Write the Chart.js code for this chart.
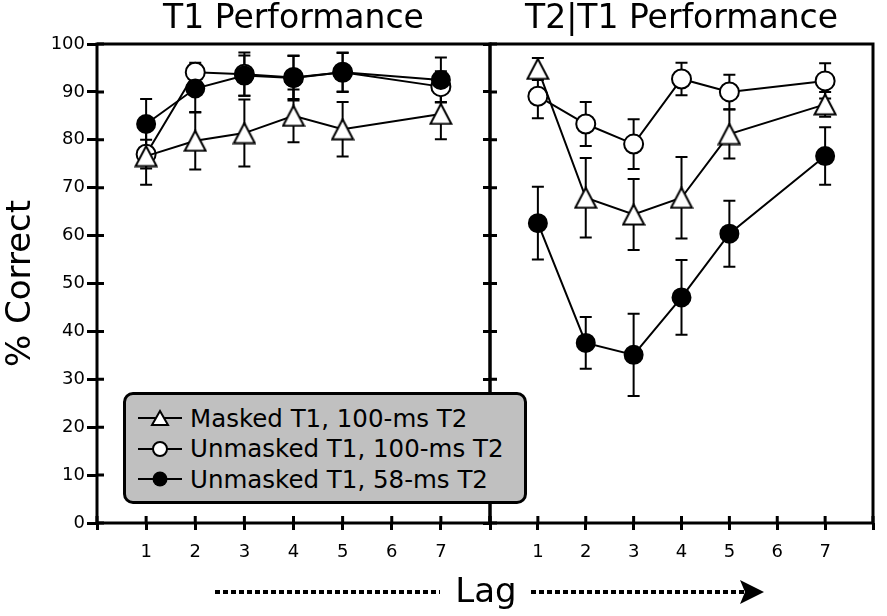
<!DOCTYPE html>
<html>
<head>
<meta charset="utf-8">
<script src="https://cdn.jsdelivr.net/npm/chart.js@4.4.1/dist/chart.umd.min.js"></script>
<style>
  body { margin: 0; background: #fff; }
  #wrap { position: relative; width: 887px; height: 616px; overflow: hidden; font-family: "DejaVu Sans", sans-serif; }
  .panel { position: absolute; top: 0; height: 616px; }
  #leftPanel { left: 0; width: 530px; }
  #rightPanel { left: 440px; width: 447px; }
  #legend {
    position: absolute; left: 123px; top: 392px; width: 404px; height: 112px;
    box-sizing: border-box; border: 3px solid #000; border-radius: 10px;
    background: #c0c0c0; padding: 8px 0 0 11px;
  }
  .row { height: 30.5px; display: flex; align-items: center; font-size: 24.5px; color: #000; white-space: nowrap; }
  .row svg { flex: none; margin-right: 7px; }
  #lagRow { position: absolute; left: 0; top: 0; pointer-events: none; }
</style>
</head>
<body>
<div id="wrap">
  <div class="panel" id="leftPanel"><canvas id="t1" width="530" height="616"></canvas></div>
  <div class="panel" id="rightPanel"><canvas id="t2" width="447" height="616"></canvas></div>
  <div id="legend"></div>
  <svg id="lagRow" width="887" height="616">
    <line x1="215" y1="592" x2="440" y2="592" stroke="#000" stroke-width="4" stroke-dasharray="5 3"></line>
    <line x1="531" y1="592" x2="745" y2="592" stroke="#000" stroke-width="4" stroke-dasharray="5 3"></line>
    <polygon points="740,580 764,592 740,604 745,592" fill="#000"></polygon>
    <text x="486" y="602" text-anchor="middle" font-family="DejaVu Sans" font-size="34" fill="#000">Lag</text>
  </svg>
</div>
<script>
const lags = [1, 2, 3, 4, 5, 7];
const seriesNames = ['Masked T1, 100-ms T2', 'Unmasked T1, 100-ms T2', 'Unmasked T1, 58-ms T2'];

// T1 Performance
const t1Masked = [76.6, 79.8, 81.4, 85.0, 82.2, 85.4];
const t1Unmasked100 = [77.0, 94.1, 93.7, 93.0, 94.1, 91.1];
const t1Unmasked58 = [83.3, 90.7, 93.4, 92.9, 94.1, 92.5];
const t1MaskedErr = [6.0, 6.0, 7.0, 5.5, 5.7, 5.3];
const t1Unmasked100Err = [3.0, 2.0, 4.5, 4.5, 4.0, 3.2];
const t1Unmasked58Err = [5.2, 5.0, 4.2, 4.7, 4.1, 4.7];

// T2|T1 Performance
const t2Masked = [94.8, 67.9, 64.4, 67.9, 81.2, 87.4];
const t2Unmasked100 = [89.1, 83.3, 79.1, 92.7, 90.0, 92.3];
const t2Unmasked58 = [62.6, 37.6, 35.1, 47.1, 60.4, 76.6];
const t2MaskedErr = [2.3, 8.3, 7.4, 8.5, 5.1, 2.6];
const t2Unmasked100Err = [4.6, 4.6, 5.2, 3.4, 3.6, 3.7];
const t2Unmasked58Err = [7.6, 5.4, 8.6, 7.8, 6.9, 6.0];

const FONT = 'DejaVu Sans';

// triangle marker centred on its bounding box, like the original figure
function triangleMarker() {
    const c = document.createElement('canvas');
    c.width = 24; c.height = 23;
    const g = c.getContext('2d');
    g.beginPath();
    g.moveTo(12, 1.5); g.lineTo(22.5, 21.5); g.lineTo(1.5, 21.5); g.closePath();
    g.fillStyle = '#fff'; g.fill();
    g.lineWidth = 2; g.strokeStyle = '#000'; g.stroke();
    return c;
}
const tri = triangleMarker();

function makeSets(values, errs) {
    const looks = [
        {pointStyle: tri, pointRadius: 12, bg: '#fff', order: 1},
        {pointStyle: 'circle', pointRadius: 9.5, bg: '#fff', order: 2},
        {pointStyle: 'circle', pointRadius: 9, bg: '#000', order: 0}
    ];
    return seriesNames.map((name, k) => ({
        label: name,
        data: lags.map((lag, i) => ({x: lag, y: values[k][i]})),
        errors: errs[k],
        showLine: true,
        borderColor: '#000',
        borderWidth: 2,
        pointStyle: looks[k].pointStyle,
        pointRadius: looks[k].pointRadius,
        pointBackgroundColor: looks[k].bg,
        pointBorderColor: '#000',
        pointBorderWidth: 2,
        order: looks[k].order
    }));
}

const errorBars = {
    id: 'errorBars',
    beforeDatasetsDraw(chart) {
        const {ctx, scales: {x, y}} = chart;
        ctx.save();
        ctx.strokeStyle = '#000';
        ctx.lineWidth = 2;
        chart.data.datasets.forEach(ds => {
            ds.data.forEach((p, i) => {
                const e = ds.errors[i];
                const px = x.getPixelForValue(p.x);
                const top = y.getPixelForValue(p.y + e);
                const bot = y.getPixelForValue(p.y - e);
                ctx.beginPath();
                ctx.moveTo(px, top); ctx.lineTo(px, bot);
                ctx.moveTo(px - 6, top); ctx.lineTo(px + 6, top);
                ctx.moveTo(px - 6, bot); ctx.lineTo(px + 6, bot);
                ctx.stroke();
            });
        });
        ctx.restore();
    }
};

// box round the plot area and the inner half of each tick mark
const frame = {
    id: 'frame',
    beforeDatasetsDraw(chart) {
        const {ctx, chartArea: a, scales} = chart;
        ctx.save();
        ctx.strokeStyle = '#000';
        ctx.lineWidth = 3;
        ctx.strokeRect(a.left, a.top, a.right - a.left, a.bottom - a.top);
        ctx.beginPath();
        scales.y.ticks.forEach(t => {
            const py = scales.y.getPixelForValue(t.value);
            ctx.moveTo(a.left, py); ctx.lineTo(a.left + 7, py);
        });
        scales.x.ticks.forEach(t => {
            const px = scales.x.getPixelForValue(t.value);
            ctx.moveTo(px, a.bottom); ctx.lineTo(px, a.bottom - 7);
        });
        ctx.stroke();
        ctx.restore();
    }
};

function makeOptions(title, showY, yWidth, padRight) {
    return {
        responsive: false,
        animation: false,
        events: [],
        layout: {padding: {left: 0, right: padRight, top: 0, bottom: 0}},
        plugins: {
            legend: {display: false},
            tooltip: {enabled: false},
            title: {
                display: true, text: title, fullSize: false, color: '#000',
                font: {family: FONT, size: 33, weight: 'normal'},
                padding: {top: 0, bottom: 4.4}
            }
        },
        scales: {
            x: {
                type: 'linear', min: 0, max: 8,
                afterFit: s => { s.height = 93; },
                border: {display: false},
                grid: {drawOnChartArea: false, tickLength: 7, tickWidth: 3, tickColor: '#000'},
                ticks: {
                    stepSize: 1, color: '#000', padding: 12, maxRotation: 0,
                    font: {family: FONT, size: 18},
                    callback: v => (v >= 1 && v <= 7) ? v : ''
                }
            },
            y: {
                min: 0, max: 100,
                afterFit: s => { s.width = yWidth; },
                border: {display: false},
                grid: {drawOnChartArea: false, tickLength: showY ? 10 : 7, tickWidth: 3, tickColor: '#000'},
                ticks: {
                    stepSize: 10, color: '#000', padding: 2,
                    font: {family: FONT, size: 18},
                    callback: v => showY ? v : ''
                },
                title: {
                    display: showY, text: '% Correct', color: '#000',
                    font: {family: FONT, size: 34, weight: 'normal'},
                    padding: {top: 1, bottom: 0}
                }
            }
        }
    };
}

new Chart(document.getElementById('t1'), {
    type: 'scatter',
    data: {datasets: makeSets([t1Masked, t1Unmasked100, t1Unmasked58], [t1MaskedErr, t1Unmasked100Err, t1Unmasked58Err])},
    options: makeOptions('T1 Performance', true, 97, 40),
    plugins: [errorBars, frame]
});

new Chart(document.getElementById('t2'), {
    type: 'scatter',
    data: {datasets: makeSets([t2Masked, t2Unmasked100, t2Unmasked58], [t2MaskedErr, t2Unmasked100Err, t2Unmasked58Err])},
    options: makeOptions('T2|T1 Performance', false, 50, 6),
    plugins: [errorBars, frame]
});

// legend
const legendSymbols = [
    '<polygon points="23,3 31,17 15,17" fill="#fff" stroke="#000" stroke-width="2"/>',
    '<circle cx="23" cy="10" r="7" fill="#fff" stroke="#000" stroke-width="2"/>',
    '<circle cx="23" cy="10" r="7.5" fill="#000"/>'
];
const legend = document.getElementById('legend');
seriesNames.forEach((name, k) => {
    const row = document.createElement('div');
    row.className = 'row';
    row.innerHTML = '<svg width="46" height="20"><line x1="1" y1="10" x2="45" y2="10" stroke="#000" stroke-width="2"/>' +
        legendSymbols[k] + '</svg><span>' + name + '</span>';
    legend.appendChild(row);
});
</script>
</body>
</html>
